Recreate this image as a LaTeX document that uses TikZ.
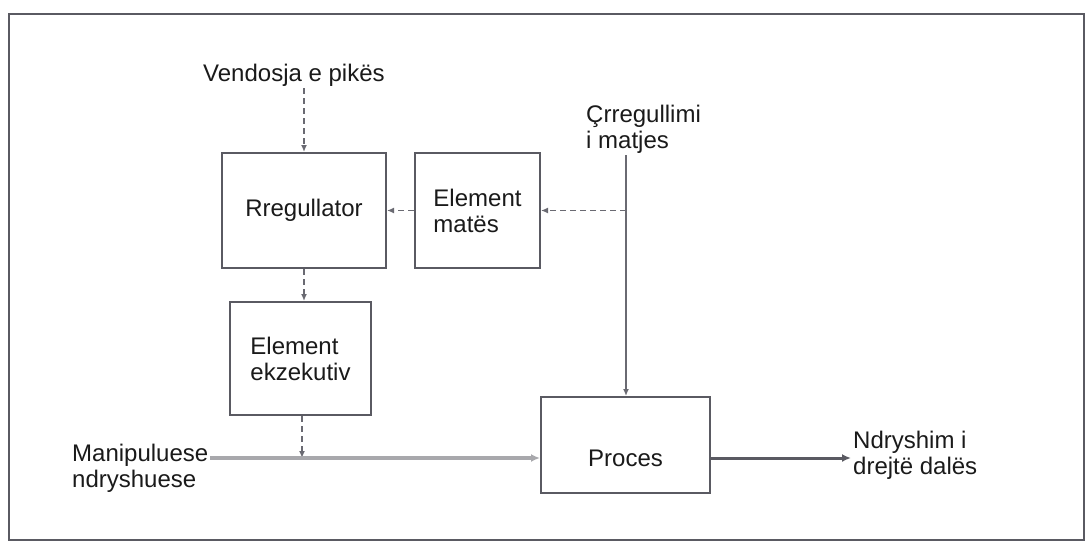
\documentclass[tikz,border=0pt]{standalone}
\usepackage{fontspec}
\setmainfont{Liberation Sans}
\usetikzlibrary{arrows.meta}
\definecolor{boxline}{HTML}{5A5A62}
\definecolor{txt}{HTML}{1A1A1A}
\definecolor{flowline}{HTML}{A8A8AC}
\definecolor{sigline}{HTML}{6A6A72}
\begin{document}
\begin{tikzpicture}[x=1pt,y=-1pt,
  blockbox/.style={draw=boxline,line width=2pt,fill=white,inner sep=0pt,
    align=left,text=txt,font=\fontsize{24}{26}\selectfont},
  lbl/.style={anchor=west,align=left,text=txt,inner sep=2pt,
    font=\fontsize{24}{26}\selectfont},
  sig/.style={draw=sigline,line width=1.6pt,dash pattern=on 6pt off 4pt,
    -{Latex[length=7pt,width=6pt]}},
  solidsig/.style={draw=sigline,line width=1.6pt,-{Latex[length=7pt,width=6pt]}},
  flow/.style={draw=flowline,line width=3.5pt,-{Latex[length=9pt,width=8pt]}},
  outflow/.style={draw=boxline,line width=3pt,-{Latex[length=9pt,width=8pt]}}]
\useasboundingbox (0,0) rectangle (1086,546);
% outer frame
\draw[draw=boxline,line width=2pt] (9,14) rectangle (1084,540);

% blocks
\node[blockbox,minimum width=164pt,minimum height=115pt] (reg) at (304,210.5) {Rregullator};
\node[blockbox,minimum width=125pt,minimum height=115pt] (mat) at (477.5,210.5) {Element\\matës};
\node[blockbox,minimum width=141pt,minimum height=113pt] (exe) at (300.5,358.5) {Element\\ekzekutiv};
% the process label sits on the level of the flow line, below the box centre
\node[blockbox,minimum width=169pt,minimum height=96pt,
  text height=45pt,text depth=2pt] (proc) at (625.5,445) {Proces};

% labels
\node[lbl] (setp) at (201,75) {Vendosja e pikës};
\node[lbl] (dist) at (584,129) {Çrregullimi\\i matjes};
\node[lbl] (man) at (70,468) {Manipuluese\\ndryshuese};
\node[lbl] (outp) at (851,455) {Ndryshim i\\drejtë dalës};

% reference levels for the connectors
\coordinate (dtop) at (626,155);
\coordinate (dbranch) at (626,210.5);
\coordinate (lev) at (0,458);

% set point into the controller
\draw[sig] (reg.north |- setp.south) -- (reg.north);
% disturbance line down to the process
\draw[solidsig] (dtop) -- (dtop |- proc.north);
% measured signal back to the measuring element and the controller
\draw[sig] (dbranch) -- (mat.east);
\draw[sig] (mat.west) -- (reg.east);
% controller to actuator, actuator to manipulated variable
\draw[sig] (reg.south) -- (reg.south |- exe.north);
\draw[sig] ([xshift=1.5pt]exe.south) -- ([xshift=1.5pt]exe.south |- lev);
% manipulated variable into the process
\draw[flow] (man.east |- lev) -- (proc.west |- lev);
% process output
\draw[outflow] (proc.east |- lev) -- (outp.west |- lev);
\end{tikzpicture}
\end{document}
